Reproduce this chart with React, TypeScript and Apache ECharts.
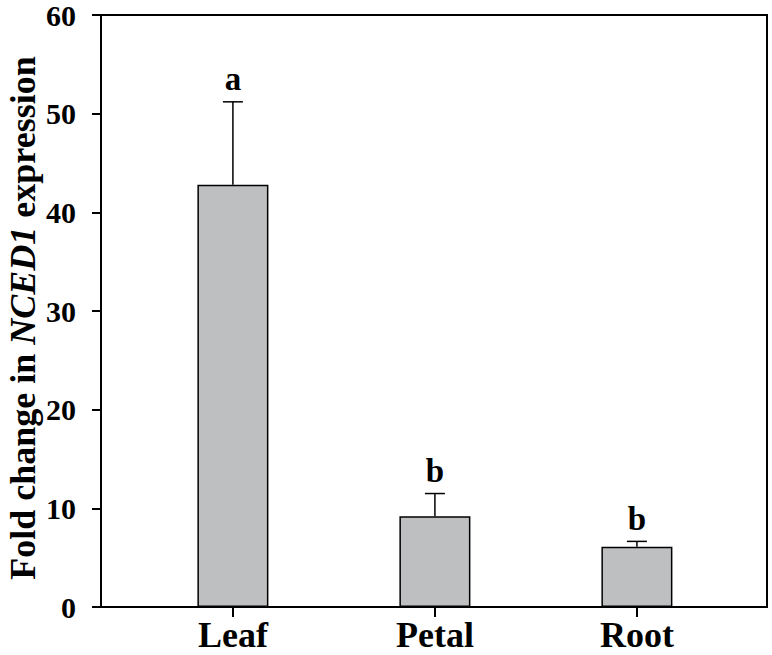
import React, { useEffect, useRef } from "react";
import * as echarts from "echarts";

const categories = ["Leaf", "Petal", "Root"];
const means = [42.8, 9.2, 6.1];
const errors = [8.4, 2.3, 0.55];
const letters = ["a", "b", "b"];
const yTicks = [0, 10, 20, 30, 40, 50, 60];
const yTitle = "Fold change in {i|NCED1} expression";

const FONT = '"Liberation Serif", "Times New Roman", serif';

export default function App() {
  const ref = useRef<HTMLDivElement>(null);
  useEffect(() => {
    if (!ref.current) return;
    const chart = echarts.init(ref.current, null, { renderer: "svg" });
    const option = {
      animation: false,
      backgroundColor: "#ffffff",
      grid: {
        left: 101,
        top: 15,
        right: 5,
        bottom: 48,
        containLabel: false,
        outerBoundsMode: "none",
        show: true,
        borderColor: "#000",
        borderWidth: 2,
        backgroundColor: "transparent",
      },
      graphic: [
        {
          type: "text",
          x: 23,
          y: 318,
          rotation: Math.PI / 2,
          style: {
            text: yTitle,
            font: `bold 36px ${FONT}`,
            fill: "#000",
            textAlign: "center",
            textVerticalAlign: "middle",
            rich: {
              i: {
                font: `italic bold 36px ${FONT}`,
                fill: "#000",
              },
            },
          },
        },
      ],
      xAxis: {
        type: "value",
        min: 0.347,
        max: 3.644,
        splitLine: { show: false },
        axisLine: { show: true, lineStyle: { color: "#000", width: 2 } },
        axisTick: {
          show: true,
          customValues: [1, 2, 3],
          length: 10,
          lineStyle: { color: "#000", width: 2 },
        },
        axisLabel: {
          customValues: [1, 2, 3],
          formatter: (v: number) => categories[Math.round(v) - 1] ?? "",
          fontFamily: FONT,
          fontWeight: "bold",
          fontSize: 36,
          color: "#000",
          margin: 10,
        },
      },
      yAxis: {
        type: "value",
        min: yTicks[0],
        max: yTicks[yTicks.length - 1],
        interval: 10,
        splitLine: { show: false },
        axisLine: { show: true, lineStyle: { color: "#000", width: 2 } },
        axisTick: { show: true, length: 9, lineStyle: { color: "#000", width: 2 } },
        axisLabel: {
          fontFamily: FONT,
          fontWeight: "bold",
          fontSize: 30,
          color: "#000",
          margin: 25,
        },
      },
      series: [
        {
          type: "bar",
          data: means.map((v, i) => [i + 1, v]),
          barWidth: 71,
          itemStyle: { color: "#bebfc1", borderColor: "#000", borderWidth: 1.5 },
          z: 2,
        },
        {
          type: "custom",
          data: means.map((v, i) => [i + 1, v, errors[i]]),
          z: 3,
          renderItem: (params: any, api: any) => {
            const x = api.value(0);
            const m = api.value(1);
            const e = api.value(2);
            const base = api.coord([x, m]);
            const top = api.coord([x, m + e]);
            const idx = params.dataIndex;
            return {
              type: "group",
              children: [
                {
                  type: "line",
                  shape: { x1: base[0], y1: base[1], x2: top[0], y2: top[1] },
                  style: { stroke: "#000", lineWidth: 1.5 },
                },
                {
                  type: "line",
                  shape: { x1: top[0] - 10, y1: top[1], x2: top[0] + 10, y2: top[1] },
                  style: { stroke: "#000", lineWidth: 1.5 },
                },
                {
                  type: "text",
                  x: top[0],
                  y: top[1] - 6,
                  style: {
                    text: letters[idx],
                    font: `bold 33px ${FONT}`,
                    fill: "#000",
                    textAlign: "center",
                    textVerticalAlign: "bottom",
                  },
                },
              ],
            };
          },
        },
      ],
    };
    chart.setOption(option as any);
    return () => chart.dispose();
  }, []);
  return (
    <div
      ref={ref}
      style={{ position: "absolute", left: 0, top: 0, width: 772, height: 655 }}
    />
  );
}
